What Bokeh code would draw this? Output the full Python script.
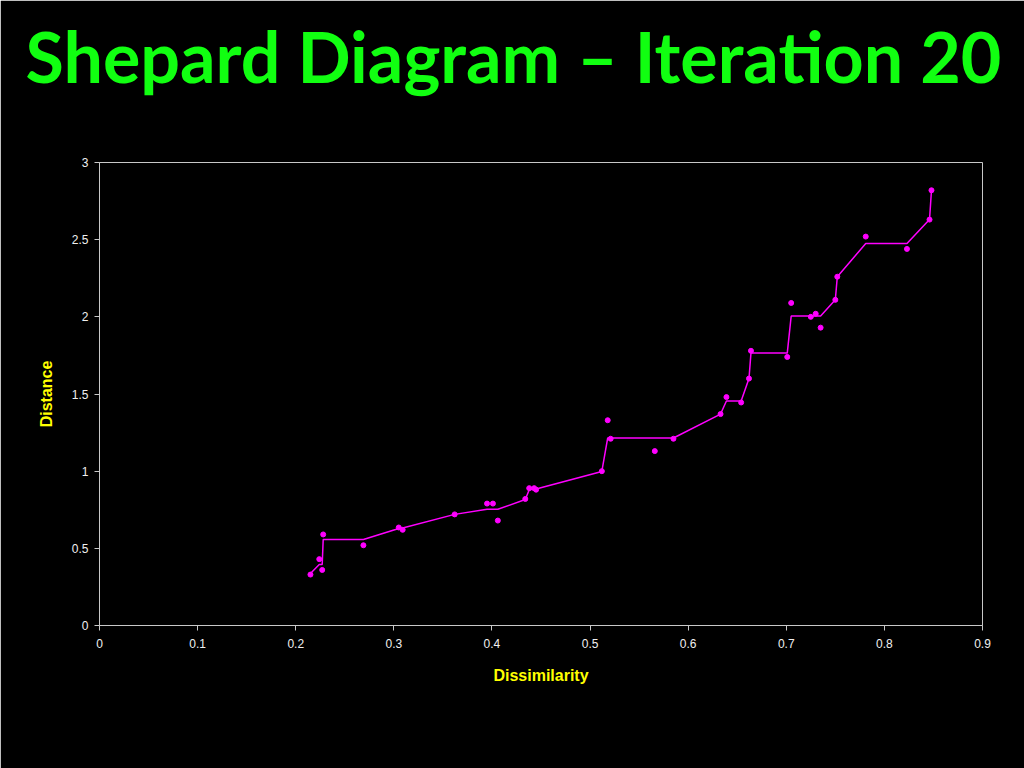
from bokeh.plotting import figure
from bokeh.models import Range1d, FixedTicker, Title
from bokeh.embed import file_html
from bokeh.resources import INLINE

# Observed points (dissimilarity, distance)
dissimilarity = [0.215, 0.224, 0.227, 0.228, 0.269, 0.305, 0.309, 0.362, 0.395, 0.401,
                 0.406, 0.434, 0.438, 0.443, 0.445, 0.512, 0.518, 0.521, 0.566, 0.585,
                 0.633, 0.639, 0.654, 0.662, 0.664, 0.701, 0.705, 0.725, 0.730, 0.735,
                 0.750, 0.752, 0.781, 0.823, 0.846, 0.848]
distance = [0.33, 0.43, 0.36, 0.59, 0.52, 0.635, 0.62, 0.72, 0.79, 0.79,
            0.68, 0.82, 0.89, 0.89, 0.88, 1.00, 1.33, 1.21, 1.13, 1.21,
            1.37, 1.48, 1.445, 1.60, 1.78, 1.74, 2.09, 2.00, 2.02, 1.93,
            2.11, 2.26, 2.52, 2.44, 2.63, 2.82]
# Monotone regression fit (disparities)
fitted = [0.337, 0.395, 0.395, 0.557, 0.557, 0.628, 0.632, 0.72, 0.753, 0.753,
          0.753, 0.816, 0.88, 0.885, 0.885, 0.998, 1.215, 1.215, 1.215, 1.215,
          1.37, 1.455, 1.455, 1.60, 1.765, 1.765, 2.005, 2.005, 2.005, 2.005,
          2.11, 2.26, 2.475, 2.475, 2.63, 2.82]

x_ticks = [0, 0.1, 0.2, 0.3, 0.4, 0.5, 0.6, 0.7, 0.8, 0.9]
x_tick_labels = ["0", "0.1", "0.2", "0.3", "0.4", "0.5", "0.6", "0.7", "0.8", "0.9"]
y_ticks = [0, 0.5, 1, 1.5, 2, 2.5, 3]
y_tick_labels = ["0", "0.5", "1", "1.5", "2", "2.5", "3"]

title_text = "Shepard Diagram \u2013 Iteration 20"

W, H = 1024, 768
p = figure(width=W, height=H, output_backend="svg", toolbar_location=None,
           x_range=Range1d(0, 0.9), y_range=Range1d(0, 3),
           min_border_left=99, min_border_right=42, min_border_top=162,
           min_border_bottom=143, title=None)

p.background_fill_color = "black"
p.border_fill_color = "black"
p.outline_line_color = "#c8c8c8"
p.outline_line_width = 1
p.grid.visible = False

p.line(dissimilarity, fitted, line_color="#ff00ff", line_width=1.5)
p.scatter(dissimilarity, distance, size=5, fill_color="#ff00ff", line_color="#ff00ff")

for ax in (p.xaxis[0], p.yaxis[0]):
    ax.axis_line_color = "#c8c8c8"
    ax.major_tick_line_color = "#c8c8c8"
    ax.major_tick_out = 5
    ax.major_tick_in = 0
    ax.minor_tick_line_color = None
    ax.major_label_text_color = "#f0f0f0"
    ax.major_label_text_font = "Liberation Sans"
    ax.major_label_text_font_size = "12px"
    ax.axis_label_text_color = "#ffff00"
    ax.axis_label_text_font = "Liberation Sans"
    ax.axis_label_text_font_style = "bold"
    ax.axis_label_text_font_size = "16px"

p.xaxis[0].ticker = FixedTicker(ticks=x_ticks)
p.xaxis[0].major_label_overrides = {t: l for t, l in zip(x_ticks, x_tick_labels)}
p.yaxis[0].ticker = FixedTicker(ticks=y_ticks)
p.yaxis[0].major_label_overrides = {t: l for t, l in zip(y_ticks, y_tick_labels)}
p.xaxis[0].axis_label = "Dissimilarity"
p.yaxis[0].axis_label = "Distance"
p.xaxis[0].major_label_standoff = 8
p.yaxis[0].major_label_standoff = 6
p.xaxis[0].axis_label_standoff = 16
p.yaxis[0].axis_label_standoff = 14

# invisible spacer between the frame and the title
spacer = Title(text=" ", text_font_size="1px", standoff=62, text_color="black")
p.add_layout(spacer, "above")

main_title = Title(text=title_text, text_color="#11ff11", text_font="Lato",
                   text_font_style="bold", text_font_size="70px", align="left",
                   offset=-74, standoff=0)
p.add_layout(main_title, "above")

open("out.html", "w").write(file_html(p, INLINE))
